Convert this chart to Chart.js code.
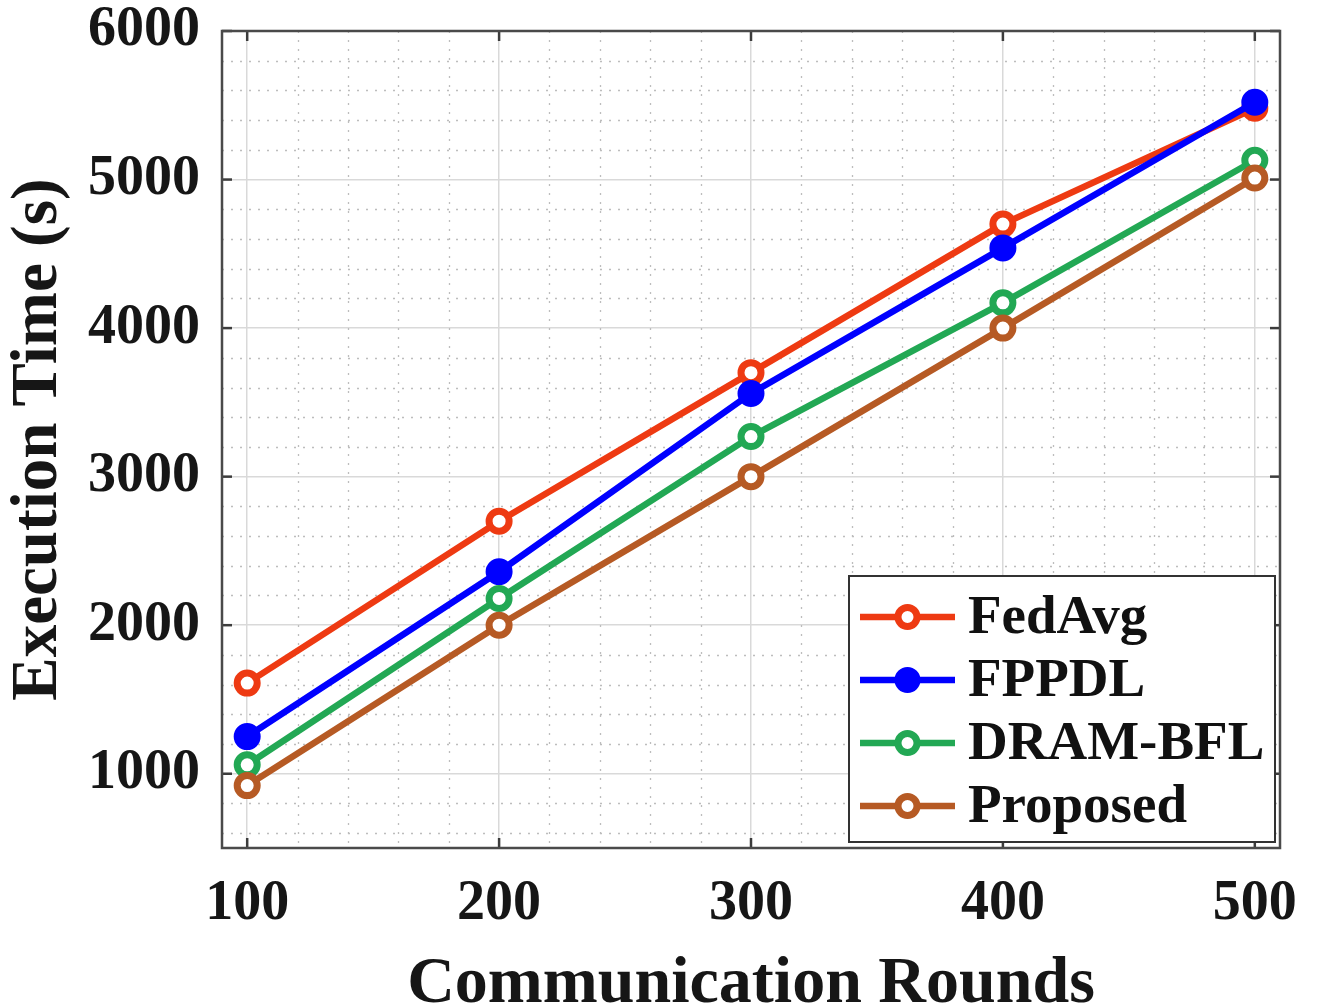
<!DOCTYPE html>
<html>
<head>
<meta charset="utf-8">
<script src="https://cdn.jsdelivr.net/npm/chart.js@4/dist/chart.umd.min.js"></script>
<style>
  html, body { margin: 0; padding: 0; background: #fff; overflow: hidden; }
  #wrap { width: 1319px; height: 1030px; position: relative; }
</style>
</head>
<body>
<div id="wrap"><canvas id="c"></canvas></div>
<script>
// Execution time versus number of communication rounds
const rounds = [100, 200, 300, 400, 500];
const fedAvg   = [1610, 2700, 3700, 4700, 5480];
const fppdl    = [1250, 2360, 3560, 4540, 5520];
const dramBfl  = [1060, 2180, 3270, 4170, 5130];
const proposed = [920, 2000, 3000, 4000, 5010];

const xTicks = [100, 200, 300, 400, 500];
const yTicks = [1000, 2000, 3000, 4000, 5000, 6000];

const seriesNames  = ['FedAvg', 'FPPDL', 'DRAM-BFL', 'Proposed'];
const seriesValues = [fedAvg, fppdl, dramBfl, proposed];
const seriesColors = ['#EE3A12', '#0000FF', '#22A854', '#B65A24'];
const seriesFill   = ['#FFFFFF', '#0000FF', '#FFFFFF', '#FFFFFF'];

const FONT = '"Liberation Serif", "Times New Roman", serif';

const datasets = seriesNames.map((name, i) => ({
  label: name,
  data: rounds.map((r, k) => ({ x: r, y: seriesValues[i][k] })),
  borderColor: seriesColors[i],
  backgroundColor: seriesFill[i],
  pointBackgroundColor: seriesFill[i],
  pointBorderColor: seriesColors[i],
  borderWidth: 6.5,
  pointRadius: 10,
  pointBorderWidth: 7,
  pointHoverRadius: 10,
  tension: 0,
  fill: false,
  order: seriesNames.length - i   // later series drawn on top
}));

// dotted minor grid, axes box with inward ticks, and the in-plot legend
const decor = {
  id: 'decor',
  beforeDatasetsDraw(chart) {
    const { ctx, chartArea: a, scales: { x, y } } = chart;
    ctx.save();
    ctx.beginPath();
    ctx.rect(a.left, a.top, a.right - a.left, a.bottom - a.top);
    ctx.clip();
    ctx.strokeStyle = '#bdbdbd';
    ctx.lineWidth = 1.3;
    ctx.setLineDash([2, 7]);
    for (let v = 20; v <= 600; v += 20) {
      if (v % 100 === 0) continue;
      const px = Math.round(x.getPixelForValue(v)) + 0.5;
      ctx.beginPath(); ctx.moveTo(px, a.top); ctx.lineTo(px, a.bottom); ctx.stroke();
    }
    for (let v = 200; v <= 6000; v += 200) {
      if (v % 1000 === 0) continue;
      const py = Math.round(y.getPixelForValue(v)) + 0.5;
      ctx.beginPath(); ctx.moveTo(a.left, py); ctx.lineTo(a.right, py); ctx.stroke();
    }
    ctx.restore();
  },
  afterDraw(chart) {
    const { ctx, chartArea: a, scales: { x, y } } = chart;
    ctx.save();
    // inward tick marks
    ctx.strokeStyle = '#3c3c3c';
    ctx.lineWidth = 2.5;
    const tl = 10;
    xTicks.forEach(v => {
      const px = x.getPixelForValue(v);
      ctx.beginPath(); ctx.moveTo(px, a.bottom); ctx.lineTo(px, a.bottom - tl); ctx.stroke();
      ctx.beginPath(); ctx.moveTo(px, a.top); ctx.lineTo(px, a.top + tl); ctx.stroke();
    });
    yTicks.forEach(v => {
      const py = y.getPixelForValue(v);
      ctx.beginPath(); ctx.moveTo(a.left, py); ctx.lineTo(a.left + tl, py); ctx.stroke();
      ctx.beginPath(); ctx.moveTo(a.right, py); ctx.lineTo(a.right - tl, py); ctx.stroke();
    });
    // axes box
    ctx.strokeStyle = '#4a4a4a';
    ctx.lineWidth = 2.5;
    ctx.strokeRect(a.left, a.top, a.right - a.left, a.bottom - a.top);

    // legend
    const bw = 426, bh = 266;
    const bx = a.right - 5 - bw, by = a.bottom - 6 - bh;
    ctx.fillStyle = '#ffffff';
    ctx.fillRect(bx, by, bw, bh);
    ctx.strokeStyle = '#333333';
    ctx.lineWidth = 2;
    ctx.strokeRect(bx, by, bw, bh);
    ctx.font = 'bold 55px ' + FONT;
    ctx.textBaseline = 'middle';
    ctx.textAlign = 'left';
    seriesNames.forEach((name, i) => {
      const cy = by + 41 + i * 63;
      const x0 = bx + 11, x1 = bx + 106, cx = (x0 + x1) / 2;
      ctx.strokeStyle = seriesColors[i];
      ctx.lineWidth = 6.5;
      ctx.setLineDash([]);
      ctx.beginPath(); ctx.moveTo(x0, cy); ctx.lineTo(x1, cy); ctx.stroke();
      ctx.beginPath();
      ctx.arc(cx, cy, 9.5, 0, Math.PI * 2);
      ctx.fillStyle = seriesFill[i];
      ctx.fill();
      ctx.lineWidth = 7;
      ctx.stroke();
      ctx.fillStyle = '#111111';
      ctx.fillText(name, bx + 119, cy + 2);
    });
    ctx.restore();
  }
};

new Chart(document.getElementById('c'), {
  type: 'line',
  data: { datasets },
  plugins: [decor],
  options: {
    responsive: true,
    maintainAspectRatio: false,
    animation: false,
    events: [],
    layout: { padding: { top: 31, right: 39, bottom: 0, left: 0 } },
    plugins: {
      legend: { display: false },
      tooltip: { enabled: false }
    },
    scales: {
      x: {
        type: 'linear',
        min: 90,
        max: 510,
        afterBuildTicks: s => { s.ticks = xTicks.map(v => ({ value: v })); },
        afterFit: s => { s.height = 182; s.paddingLeft = 0; s.paddingRight = 0; },
        grid: { color: '#d9d9d9', lineWidth: 1.5, drawTicks: false },
        border: { display: false },
        ticks: {
          padding: 23,
          color: '#161616',
          font: { family: FONT, size: 56, weight: 'bold' },
          maxRotation: 0,
          autoSkip: false,
          callback: v => String(v)
        },
        title: {
          display: true,
          text: 'Communication Rounds',
          color: '#161616',
          padding: 12,
          font: { family: FONT, size: 66, weight: 'bold', lineHeight: 1 }
        }
      },
      y: {
        type: 'linear',
        min: 500,
        max: 6000,
        afterBuildTicks: s => { s.ticks = yTicks.map(v => ({ value: v })); },
        afterFit: s => { s.width = 222; s.paddingTop = 0; s.paddingBottom = 0; },
        grid: { color: '#d9d9d9', lineWidth: 1.5, drawTicks: false },
        border: { display: false },
        ticks: {
          padding: 22,
          color: '#161616',
          font: { family: FONT, size: 56, weight: 'bold' },
          callback: v => String(v)
        },
        title: {
          display: true,
          text: 'Execution Time (s)',
          color: '#161616',
          padding: 7,
          font: { family: FONT, size: 65, weight: 'bold', lineHeight: 1 }
        }
      }
    }
  }
});
</script>
</body>
</html>
